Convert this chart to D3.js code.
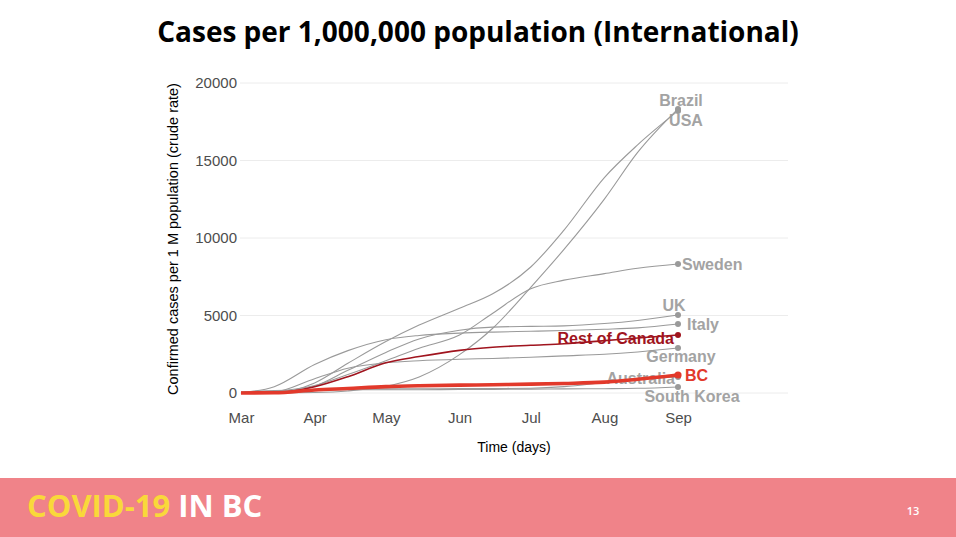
<!DOCTYPE html>
<html>
<head>
<meta charset="utf-8">
<script src="https://cdn.jsdelivr.net/npm/d3@7"></script>
<style>
	html, body { margin: 0; padding: 0; background: #ffffff; }
	svg { display: block; }
</style>
</head>
<body>
<div id="slide"></div>
<script>
// Semi-monthly sample dates
var dates = ["2020-03-01","2020-03-15","2020-04-01","2020-04-15","2020-05-01","2020-05-15",
	"2020-06-01","2020-06-15","2020-07-01","2020-07-15","2020-08-01","2020-08-15","2020-09-01"];

// Confirmed cases per 1 M population
var brazil      = [0, 1, 32, 132, 433, 1035, 2474, 4177, 6820, 9266, 12510, 15520, 18330];
var usa         = [0, 11, 650, 1920, 3320, 4380, 5470, 6400, 8130, 10510, 13900, 16010, 18200];
var sweden      = [1, 100, 485, 1190, 2080, 2890, 3740, 5150, 6730, 7280, 7700, 8050, 8320];
var uk          = [0, 21, 440, 1460, 2620, 3490, 4050, 4250, 4300, 4330, 4480, 4680, 5030];
var italy       = [28, 410, 1840, 2735, 3440, 3710, 3860, 3930, 3985, 4030, 4110, 4200, 4450];
var restOfCanada= [0, 10, 400, 1050, 1950, 2350, 2750, 2950, 3080, 3180, 3380, 3550, 3740];
var germany     = [2, 70, 925, 1600, 1950, 2085, 2180, 2230, 2310, 2395, 2500, 2650, 2900];
var bc          = [2, 14, 197, 295, 410, 465, 505, 533, 571, 616, 700, 884, 1160];
var australia   = [1, 10, 190, 253, 265, 275, 282, 288, 310, 412, 680, 900, 1030];
var southKorea  = [72, 159, 193, 207, 210, 214, 224, 236, 250, 265, 279, 302, 390];

var seriesNames = ["Brazil","USA","Sweden","UK","Italy","Germany","Australia","South Korea","Rest of Canada","BC"];
var seriesValues = [brazil, usa, sweden, uk, italy, germany, australia, southKorea, restOfCanada, bc];
var yTicks = [0, 5000, 10000, 15000, 20000];

// Styling per series and label placement relative to the end point
var styles = {
	"Brazil":        {color:"#9a9a9a", width:1.1, label:"#a3a3a3", dx:3,  dy:-3,  anchor:"middle"},
	"USA":           {color:"#9a9a9a", width:1.1, label:"#a3a3a3", dx:8,  dy:15,  anchor:"middle"},
	"Sweden":        {color:"#9a9a9a", width:1.1, label:"#a3a3a3", dx:4,  dy:6,   anchor:"start"},
	"UK":            {color:"#9a9a9a", width:1.1, label:"#a3a3a3", dx:-4, dy:-4,  anchor:"middle"},
	"Italy":         {color:"#9a9a9a", width:1.1, label:"#a3a3a3", dx:9,  dy:6,   anchor:"start"},
	"Germany":       {color:"#9a9a9a", width:1.1, label:"#a3a3a3", dx:3,  dy:14,  anchor:"middle"},
	"Australia":     {color:"#9a9a9a", width:1.1, label:"#a3a3a3", dx:-3, dy:7,   anchor:"end"},
	"South Korea":   {color:"#9a9a9a", width:1.1, label:"#a3a3a3", dx:14, dy:15,  anchor:"middle"},
	"Rest of Canada":{color:"#a0141e", width:1.6, label:"#a0141e", dx:-4, dy:9,   anchor:"end"},
	"BC":            {color:"#e2392b", width:3.6, label:"#e2392b", dx:7,  dy:6,   anchor:"start"}
};

var W = 956, H = 537;
var parseDate = d3.utcParse("%Y-%m-%d");

var svg = d3.select("#slide").append("svg")
	.attr("width", W)
	.attr("height", H);

svg.append("rect")
	.attr("width", W).attr("height", H)
	.attr("fill", "#ffffff");

// Title
svg.append("text")
	.attr("x", 478).attr("y", 42)
	.attr("text-anchor", "middle")
	.style("font-family", "'Open Sans', sans-serif")
	.style("font-weight", 700)
	.style("font-size", "28px")
	.style("fill", "#000000")
	.text("Cases per 1,000,000 population (International)");

var x = d3.scaleUtc()
	.domain([parseDate(dates[0]), parseDate(dates[dates.length - 1])])
	.range([241, 678]);
var y = d3.scaleLinear()
	.domain([0, 20000])
	.range([393, 83]);
var panelRight = 788;

var chart = svg.append("g").attr("class", "chart");

// Horizontal grid
chart.append("g").attr("class", "grid")
	.selectAll("line")
	.data(yTicks)
	.join("line")
	.attr("x1", 240).attr("x2", panelRight)
	.attr("y1", function(d){ return y(d); })
	.attr("y2", function(d){ return y(d); })
	.attr("stroke", "#ececec")
	.attr("stroke-width", 1);

// Axes
var yAxis = chart.append("g")
	.attr("transform", "translate(240,0)")
	.call(d3.axisLeft(y).tickValues(yTicks).tickSize(0).tickPadding(3).tickFormat(d3.format("d")));
var xAxis = chart.append("g")
	.attr("transform", "translate(0,393)")
	.call(d3.axisBottom(x).ticks(d3.utcMonth.every(1)).tickSize(0).tickPadding(19).tickFormat(d3.utcFormat("%b")));
[yAxis, xAxis].forEach(function(a){
	a.select(".domain").remove();
	a.selectAll("text")
		.style("font-family", "'Liberation Sans', Arial, sans-serif")
		.style("font-size", "15px")
		.style("fill", "#4d4d4d");
});

// Axis titles
chart.append("text")
	.attr("x", 514).attr("y", 452)
	.attr("text-anchor", "middle")
	.style("font-family", "'Liberation Sans', Arial, sans-serif")
	.style("font-size", "14px")
	.style("fill", "#000000")
	.text("Time (days)");
chart.append("text")
	.attr("transform", "translate(178,239) rotate(-90)")
	.attr("text-anchor", "middle")
	.style("font-family", "'Liberation Sans', Arial, sans-serif")
	.style("font-size", "14.5px")
	.style("fill", "#000000")
	.text("Confirmed cases per 1 M population (crude rate)");

var series = seriesNames.map(function(name, i){
	return {
		name: name,
		style: styles[name],
		values: seriesValues[i].map(function(v, j){ return {date: parseDate(dates[j]), value: v}; })
	};
});

var line = d3.line()
	.x(function(d){ return x(d.date); })
	.y(function(d){ return y(d.value); })
	.curve(d3.curveMonotoneX);

// Labels sit under the lines, as in the original
chart.append("g").attr("class", "labels")
	.selectAll("text")
	.data(series)
	.join("text")
	.attr("x", function(d){ return x(d.values[d.values.length - 1].date) + d.style.dx; })
	.attr("y", function(d){ return y(d.values[d.values.length - 1].value) + d.style.dy; })
	.attr("text-anchor", function(d){ return d.style.anchor; })
	.style("font-family", "'Liberation Sans', Arial, sans-serif")
	.style("font-weight", 700)
	.style("font-size", "16px")
	.style("fill", function(d){ return d.style.label; })
	.text(function(d){ return d.name; });

chart.append("g").attr("class", "lines")
	.selectAll("path")
	.data(series)
	.join("path")
	.attr("d", function(d){ return line(d.values); })
	.attr("fill", "none")
	.attr("stroke", function(d){ return d.style.color; })
	.attr("stroke-width", function(d){ return d.style.width; })
	.attr("stroke-linejoin", "round");

chart.append("g").attr("class", "dots")
	.selectAll("circle")
	.data(series)
	.join("circle")
	.attr("cx", function(d){ return x(d.values[d.values.length - 1].date); })
	.attr("cy", function(d){ return y(d.values[d.values.length - 1].value); })
	.attr("r", function(d){ return d.name === "BC" ? 3.6 : 3; })
	.attr("fill", function(d){ return d.style.color; });

// Footer band
var footer = svg.append("g").attr("class", "footer");
footer.append("rect")
	.attr("x", 0).attr("y", 478)
	.attr("width", W).attr("height", H - 478)
	.attr("fill", "#f08389");
var brand = footer.append("text")
	.attr("x", 27).attr("y", 517)
	.style("font-family", "'Open Sans', sans-serif")
	.style("font-weight", 700)
	.style("font-size", "31px");
brand.append("tspan").style("fill", "#f9d83a").text("COVID-19");
brand.append("tspan").style("fill", "#ffffff").text(" IN BC");
footer.append("text")
	.attr("x", 913).attr("y", 515)
	.attr("text-anchor", "middle")
	.style("font-family", "'Open Sans', sans-serif")
	.style("font-weight", 600)
	.style("font-size", "11px")
	.style("fill", "#ffffff")
	.text("13");
</script>
</body>
</html>
